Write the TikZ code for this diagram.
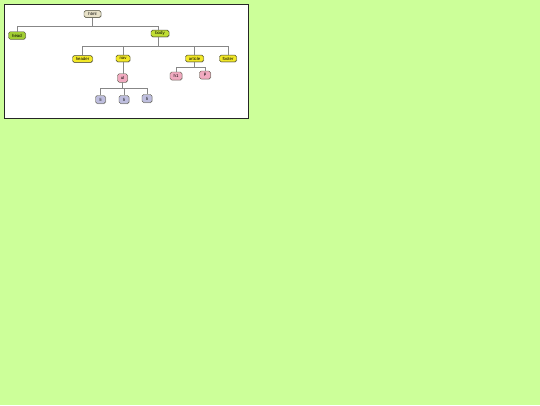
\documentclass[tikz,border=0pt]{standalone}
\usepackage{fontspec}
\setmainfont{Liberation Sans}
\usetikzlibrary{shadows}
\definecolor{bggreen}{RGB}{204,255,153}
\definecolor{cHtml}{RGB}{232,226,200}
\definecolor{cHead}{RGB}{160,204,51}
\definecolor{cBody}{RGB}{192,222,52}
\definecolor{cYel}{RGB}{242,232,40}
\definecolor{cPink}{RGB}{240,170,192}
\definecolor{cLav}{RGB}{190,190,222}
\definecolor{cEdge}{RGB}{135,135,135}
\definecolor{cBord}{RGB}{70,70,50}
\tikzset{
  tag/.style={draw=cBord, line width=0.45pt, rounded corners=1.6pt, inner sep=0pt,
    minimum height=6.8pt, font=\fontsize{4.3}{4.8}\selectfont,
    drop shadow={shadow xshift=0.5pt, shadow yshift=-0.5pt, opacity=0.45}},
  edge/.style={draw=cEdge, line width=0.6pt},
}
\begin{document}
\begin{tikzpicture}[x=1pt,y=-1pt]
\useasboundingbox (0,0) rectangle (540,405);
\fill[bggreen] (0,0) rectangle (540,405);
\draw[fill=white, line width=1pt, draw=black!85] (4,4) rectangle (248,118);

% edges (drawn first so nodes sit on top)
\coordinate (j1) at (92.5,26.5);
\coordinate (j2) at (158.5,46.5);
\coordinate (j3) at (122.5,88);
\coordinate (j4) at (194.5,67.5);

% nodes
\node[tag, fill=cHtml, minimum width=17pt] (html) at (92.5,14) {html};
\node[tag, fill=cHead, minimum width=17pt, minimum height=7.5pt] (head) at (17,35.5) {head};
\node[tag, fill=cBody, minimum width=18pt] (body) at (160,33.5) {body};
\node[tag, fill=cYel, minimum width=20pt] (header) at (82.5,59) {header};
\node[tag, fill=cYel, minimum width=14pt] (nav) at (123,58.5) {nav};
\node[tag, fill=cYel, minimum width=18pt] (article) at (194.5,58.5) {article};
\node[tag, fill=cYel, minimum width=17pt] (footer) at (228,58.5) {footer};
\node[tag, fill=cPink, minimum width=10pt, minimum height=8.5pt] (ul) at (122.5,78) {ul};
\node[tag, fill=cPink, minimum width=12pt, minimum height=8pt] (h1) at (176,76) {h1};
\node[tag, fill=cPink, minimum width=11pt, minimum height=8pt] (p) at (205,75) {p};
\node[tag, fill=cLav, minimum width=10pt, minimum height=8pt] (li1) at (100.5,99.5) {li};
\node[tag, fill=cLav, minimum width=10pt, minimum height=8pt] (li2) at (124,99.5) {li};
\node[tag, fill=cLav, minimum width=10pt, minimum height=8pt] (li3) at (147,98.5) {li};

\draw[edge] (html.south) -- (j1) -| (head.north);
\draw[edge] (j1) -| (body.north -| j2);
\draw[edge] (body.south -| j2) -- (j2) -| (header.north);
\draw[edge] (j2) -| (nav.north);
\draw[edge] (j2) -| (article.north);
\draw[edge] (j2) -| (footer.north);
\draw[edge] (nav.south) -- (ul.north -| nav.south);
\draw[edge] (ul.south) -- (j3) -| (li1.north);
\draw[edge] (j3) -| (li2.north);
\draw[edge] (j3) -| (li3.north);
\draw[edge] (article.south) -- (j4) -| (h1.north);
\draw[edge] (j4) -| (p.north);
\end{tikzpicture}
\end{document}
